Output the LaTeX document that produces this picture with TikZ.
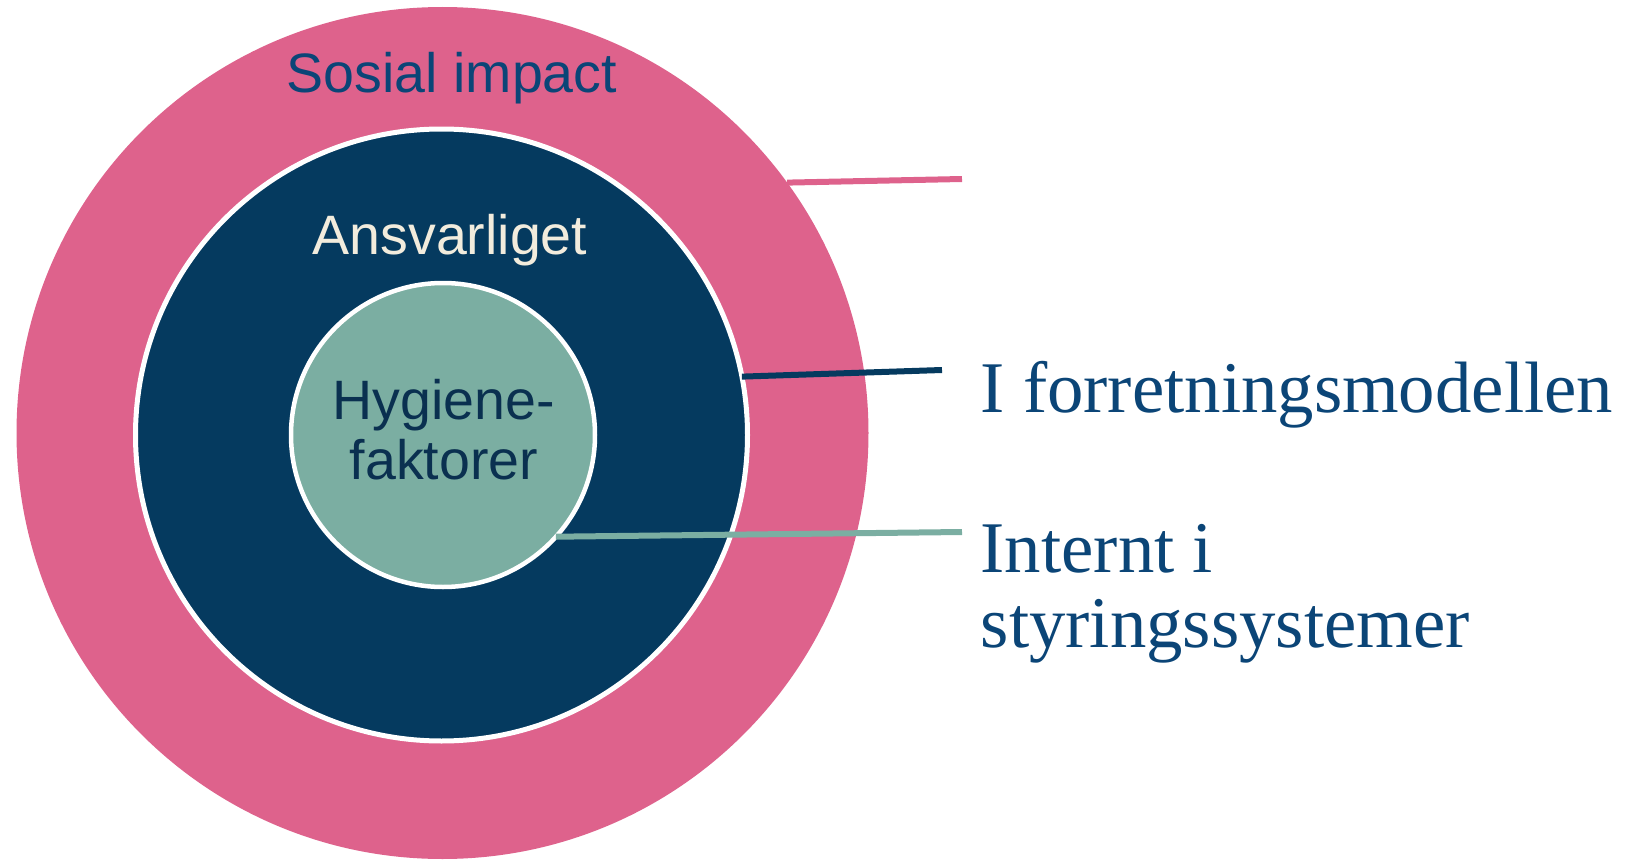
\documentclass[tikz,border=0pt]{standalone}
\usepackage{fontspec}
\setmainfont{Liberation Serif}
\setsansfont{Liberation Sans}
\definecolor{sirkelrosa}{HTML}{DE628C}
\definecolor{sirkelblaa}{HTML}{053A5F}
\definecolor{sirkelgroenn}{HTML}{7BAEA2}
\definecolor{tekstblaa}{HTML}{0B4577}
\definecolor{tekstkrem}{HTML}{F2ECDD}
\definecolor{tekstmork}{HTML}{0A3050}
\begin{document}
\begin{tikzpicture}[
    ring/.style={circle, inner sep=0pt, outer sep=0pt},
    sirkeltekst/.style={font=\sffamily\fontsize{15.8}{16.8}\selectfont, inner sep=0pt},
    etikett/.style={font=\fontsize{20.7}{21.4}\selectfont, text=tekstblaa, inner sep=0pt, align=left},
    strek/.style={line width=0.6mm}
]
    \useasboundingbox (0,0) rectangle (16.27,-8.60);

    % Sosial impact
    \node[ring, fill=sirkelrosa, minimum size=8.52cm] (sosial) at (4.425,-4.33) {};
    \node[sirkeltekst, text=tekstblaa, anchor=base] (sosialtekst) at (4.52,-0.93) {Sosial impact};

    % Ansvarliget
    \node[ring, fill=sirkelblaa, draw=white, line width=0.5mm, minimum size=6.12cm] (ansvar) at (4.415,-4.35) {};
    \node[sirkeltekst, text=tekstkrem, anchor=base] (ansvartekst) at (4.50,-2.54) {Ansvarliget};

    % Hygienefaktorer
    \node[ring, fill=sirkelgroenn, draw=white, line width=0.45mm, minimum size=3.04cm] (hygiene) at (4.43,-4.35) {};
    \node[sirkeltekst, text=tekstmork, anchor=base, align=center] (hygienetekst) at (4.44,-4.79) {Hygiene-\\faktorer};

    % Etiketter
    \node[etikett, anchor=base west] (forretning) at (9.80,-4.12) {I forretningsmodellen};
    \node[etikett, anchor=base west] (internt) at (9.80,-6.475) {Internt i\\styringssystemer};

    % Streker
    \coordinate (sosialende) at (9.62,-1.79);
    \coordinate (blaaende) at (9.42,-3.70);
    \coordinate (groennende) at (9.62,-5.32);
    \draw[strek, sirkelrosa] (sosial.36.6) -- (sosialende);
    \draw[strek, sirkelblaa] (ansvar.11) -- (blaaende);
    \draw[strek, sirkelgroenn] (hygiene.-42.6) -- (groennende);
\end{tikzpicture}
\end{document}
